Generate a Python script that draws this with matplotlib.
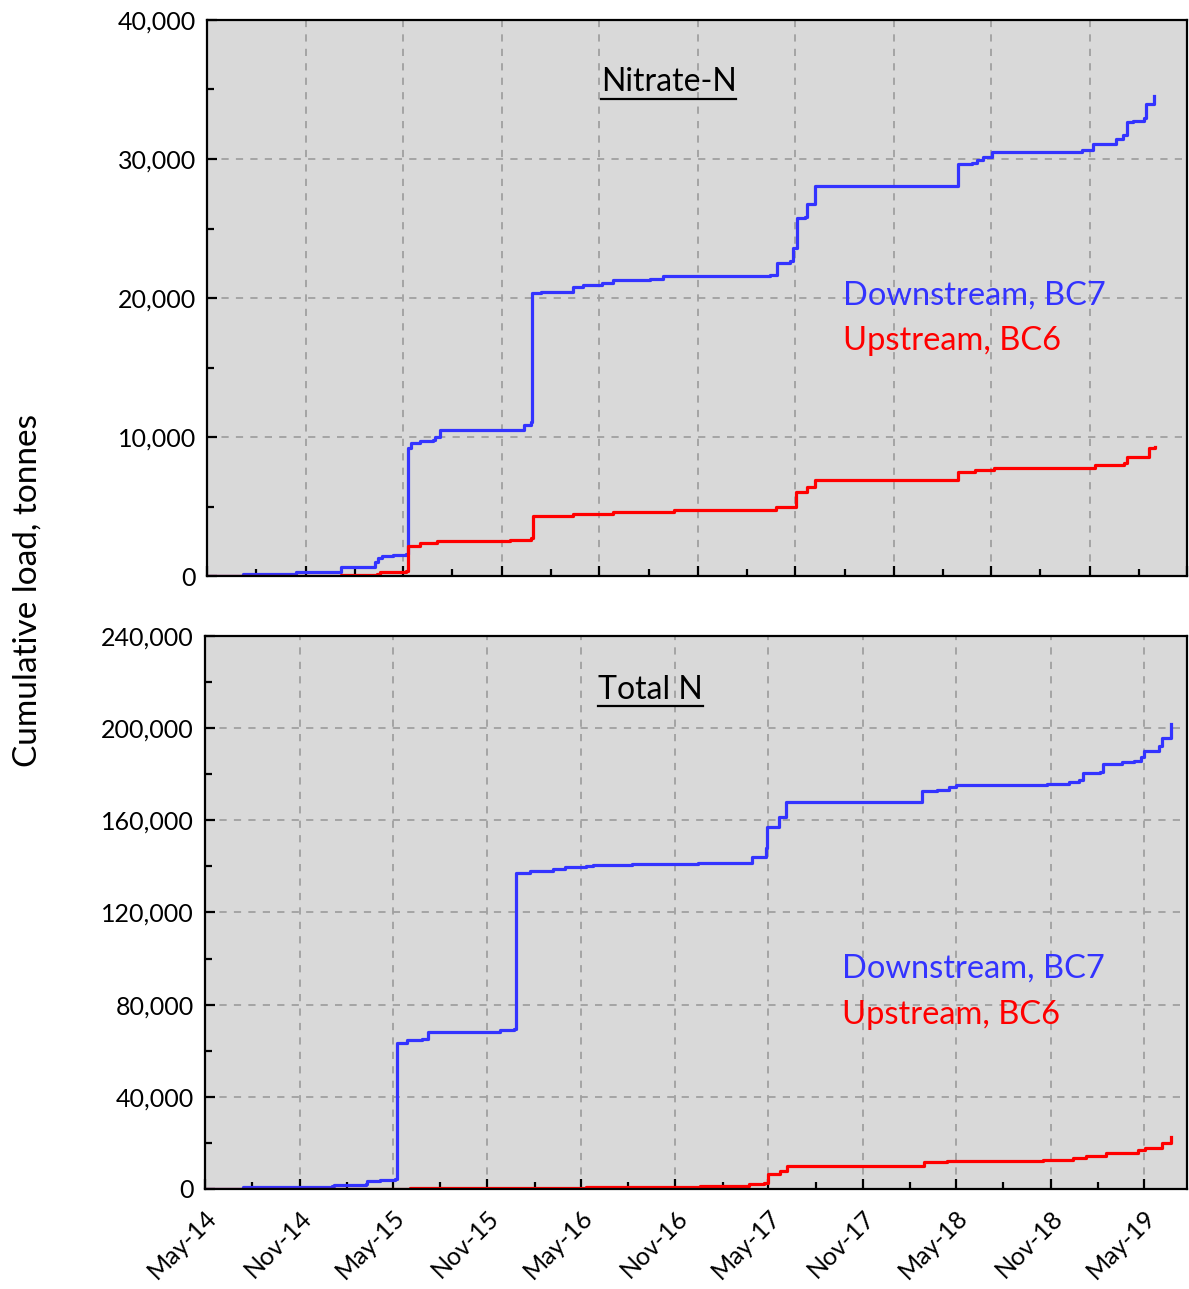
import matplotlib.pyplot as plt
import matplotlib.dates as mdates
import numpy as np
import pandas as pd
from matplotlib.lines import Line2D

plt.rcParams['font.family'] = ['Lato', 'DejaVu Sans']

# Nitrate-N, cumulative load (tonnes)
no3_down_dates = ["2014-05-01", "2014-07-07", "2014-10-13", "2015-01-01", "2015-01-05", "2015-03-06",
                  "2015-03-10", "2015-03-15", "2015-03-24", "2015-04-12", "2015-05-06", "2015-05-10",
                  "2015-05-17", "2015-06-02", "2015-06-26", "2015-06-30", "2015-07-07", "2015-07-09",
                  "2015-11-14", "2015-12-12", "2015-12-25", "2015-12-27", "2016-01-13", "2016-03-08",
                  "2016-03-13", "2016-04-01", "2016-05-06", "2016-05-27", "2016-08-04", "2016-08-28",
                  "2017-03-15", "2017-03-28", "2017-04-21", "2017-04-27", "2017-05-04", "2017-05-19",
                  "2017-05-23", "2017-06-04", "2017-06-07", "2018-02-20", "2018-02-28", "2018-03-26",
                  "2018-04-05", "2018-04-16", "2018-05-03", "2018-10-18", "2018-11-06", "2018-12-15",
                  "2018-12-19", "2019-01-01", "2019-01-10", "2019-01-21", "2019-02-09", "2019-02-13",
                  "2019-02-28"]
no3_down = [0, 150, 300, 300, 650, 650,
            1000, 1300, 1450, 1550, 1600, 9200,
            9550, 9700, 9800, 10000, 10000, 10500,
            10500, 10850, 11100, 20350, 20400, 20400,
            20800, 20950, 21100, 21300, 21350, 21600,
            21650, 22500, 22650, 23600, 25750, 25800,
            26750, 26750, 28050, 28050, 29650, 29700,
            29900, 30150, 30500, 30650, 31100, 31100,
            31450, 31700, 32650, 32700, 32950, 33950,
            34550]

no3_up_dates = ["2014-05-01", "2015-01-05", "2015-03-13", "2015-03-19", "2015-05-06", "2015-05-10",
                "2015-06-02", "2015-07-03", "2015-11-17", "2015-12-26", "2015-12-30", "2016-03-13",
                "2016-05-27", "2016-09-18", "2017-03-24", "2017-03-26", "2017-04-23", "2017-05-03",
                "2017-05-19", "2017-05-23", "2017-06-05", "2017-06-07", "2018-02-24", "2018-03-01",
                "2018-03-30", "2018-04-01", "2018-05-01", "2018-05-06", "2018-11-04", "2018-11-10",
                "2018-12-19", "2019-01-03", "2019-01-09", "2019-02-11", "2019-02-19", "2019-03-02"]
no3_up = [0, 70, 150, 300, 360, 2150,
          2370, 2500, 2600, 2750, 4300, 4450,
          4600, 4750, 4750, 4940, 4940, 6070,
          6070, 6380, 6380, 6910, 6910, 7500,
          7500, 7630, 7630, 7790, 7790, 7990,
          7990, 8110, 8540, 8580, 9180, 9300]

# Total N, cumulative load (tonnes)
tn_down_dates = ["2014-05-01", "2014-07-14", "2015-01-04", "2015-01-06", "2015-03-11", "2015-03-13",
                 "2015-04-06", "2015-05-05", "2015-05-09", "2015-05-28", "2015-06-28", "2015-07-08",
                 "2015-11-12", "2015-11-26", "2015-12-23", "2015-12-27", "2016-01-23", "2016-03-07",
                 "2016-03-31", "2016-05-12", "2016-05-24", "2016-08-09", "2016-12-15", "2017-03-21",
                 "2017-03-29", "2017-04-20", "2017-04-27", "2017-04-29", "2017-05-16", "2017-05-22",
                 "2017-06-01", "2017-06-05", "2018-02-16", "2018-02-24", "2018-03-25", "2018-04-17",
                 "2018-05-01", "2018-10-25", "2018-12-07", "2018-12-26", "2019-01-02", "2019-02-04",
                 "2019-02-10", "2019-03-19", "2019-04-12", "2019-04-25", "2019-05-01", "2019-05-20",
                 "2019-05-30", "2019-06-05", "2019-06-19", "2019-06-23"]
tn_down = [0, 900, 1300, 1700, 2200, 3500,
           3900, 4300, 63400, 64700, 65100, 68100,
           68100, 69000, 69400, 137100, 138000, 138900,
           139700, 140200, 140600, 141000, 141500, 141500,
           144100, 144100, 148000, 157100, 157100, 161500,
           161500, 168000, 168000, 172700, 173000, 174500,
           175300, 175800, 176600, 177500, 180500, 181000,
           184500, 185300, 185800, 187500, 190100, 190100,
           192300, 195700, 195700, 201800]

tn_up_dates = ["2014-05-01", "2015-06-03", "2016-05-12", "2016-12-19", "2017-03-25", "2017-04-23",
               "2017-05-01", "2017-05-20", "2017-05-24", "2017-06-05", "2017-06-07", "2018-02-20",
               "2018-02-27", "2018-04-14", "2018-10-17", "2018-12-15", "2019-01-08", "2019-02-06",
               "2019-02-16", "2019-04-14", "2019-04-20", "2019-05-03", "2019-05-26", "2019-06-05",
               "2019-06-15", "2019-06-23"]
tn_up = [0, 500, 900, 1300, 2000, 2700,
         6500, 6500, 7900, 7900, 10000, 10000,
         11600, 12200, 12600, 13600, 14300, 14300,
         15600, 15600, 16900, 17600, 17600, 20000,
         20000, 22400]

BLUE = "#3333FF"
RED = "#FF0000"


def underline_text(fig, txt):
    fig.canvas.draw()
    bb = txt.get_window_extent(renderer=fig.canvas.get_renderer())
    inv = fig.transFigure.inverted()
    (x0, y0), (x1, y1) = inv.transform([(bb.x0, bb.y0), (bb.x1, bb.y0)])
    fig.add_artist(Line2D([x0, x1], [y0 - 0.001, y0 - 0.001], color="black", lw=1.6,
                          transform=fig.transFigure))


def style_axes(ax, ymax, ystep, yminor, xmax, show_labels):
    ax.set_facecolor("#D9D9D9")
    ax.set_xlim(pd.Timestamp("2014-05-01"), pd.Timestamp(xmax))
    ax.set_ylim(0, ymax)
    ax.set_yticks(np.arange(0, ymax + 1, ystep))
    ax.set_yticks(np.arange(0, ymax + 1, yminor), minor=True)
    ax.yaxis.set_major_formatter(plt.FuncFormatter(lambda v, p: f"{int(v):,}"))
    ax.xaxis.set_major_locator(mdates.MonthLocator(bymonth=[5, 11]))
    ax.xaxis.set_minor_locator(mdates.MonthLocator(bymonth=[2, 8]))
    ax.xaxis.set_major_formatter(mdates.DateFormatter("%b-%y"))
    ax.grid(True, which="major", color="#A0A0A0", linestyle=(0, (4, 4)), linewidth=1.3)
    ax.tick_params(which="major", direction="in", length=7, width=1.6, labelsize=18)
    ax.tick_params(which="minor", direction="in", length=5, width=1.6)
    ax.tick_params(axis="x", pad=12)
    ax.tick_params(axis="y", pad=8)
    for s in ax.spines.values():
        s.set_linewidth(1.6)
        s.set_color("black")
    if show_labels:
        for lab in ax.get_xticklabels():
            lab.set_rotation(45)
            lab.set_ha("right")
            lab.set_rotation_mode("anchor")
    else:
        ax.tick_params(axis="x", labelbottom=False)


fig = plt.figure(figsize=(11.89, 12.89), dpi=100)
ax1 = fig.add_axes([0.1741, 0.5531, 0.8242, 0.4314])
ax2 = fig.add_axes([0.1724, 0.0776, 0.8259, 0.4290])

ax1.plot(pd.to_datetime(no3_down_dates), no3_down, color=BLUE, lw=2.3, drawstyle="steps-post")
ax1.plot(pd.to_datetime(no3_up_dates), no3_up, color=RED, lw=2.3, drawstyle="steps-post")
style_axes(ax1, 40000, 10000, 5000, "2019-05-01", False)

ax2.plot(pd.to_datetime(tn_down_dates), tn_down, color=BLUE, lw=2.3, drawstyle="steps-post")
ax2.plot(pd.to_datetime(tn_up_dates), tn_up, color=RED, lw=2.3, drawstyle="steps-post")
style_axes(ax2, 240000, 40000, 20000, "2019-07-24", True)

t1 = ax1.text(0.471, 0.888, "Nitrate-N", transform=ax1.transAxes, ha="center", va="center", fontsize=23)
t2 = ax2.text(0.454, 0.902, "Total N", transform=ax2.transAxes, ha="center", va="center", fontsize=23)

for ax, y1, y2 in [(ax1, 0.505, 0.423), (ax2, 0.398, 0.315)]:
    ax.text(0.649, y1, "Downstream, BC7", transform=ax.transAxes, color=BLUE, fontsize=23.5, va="center")
    ax.text(0.649, y2, "Upstream, BC6", transform=ax.transAxes, color=RED, fontsize=23.5, va="center")

fig.text(0.023, 0.542, "Cumulative load, tonnes", rotation=90, ha="center", va="center", fontsize=24)

underline_text(fig, t1)
underline_text(fig, t2)

plt.savefig("out.png", dpi=100)
